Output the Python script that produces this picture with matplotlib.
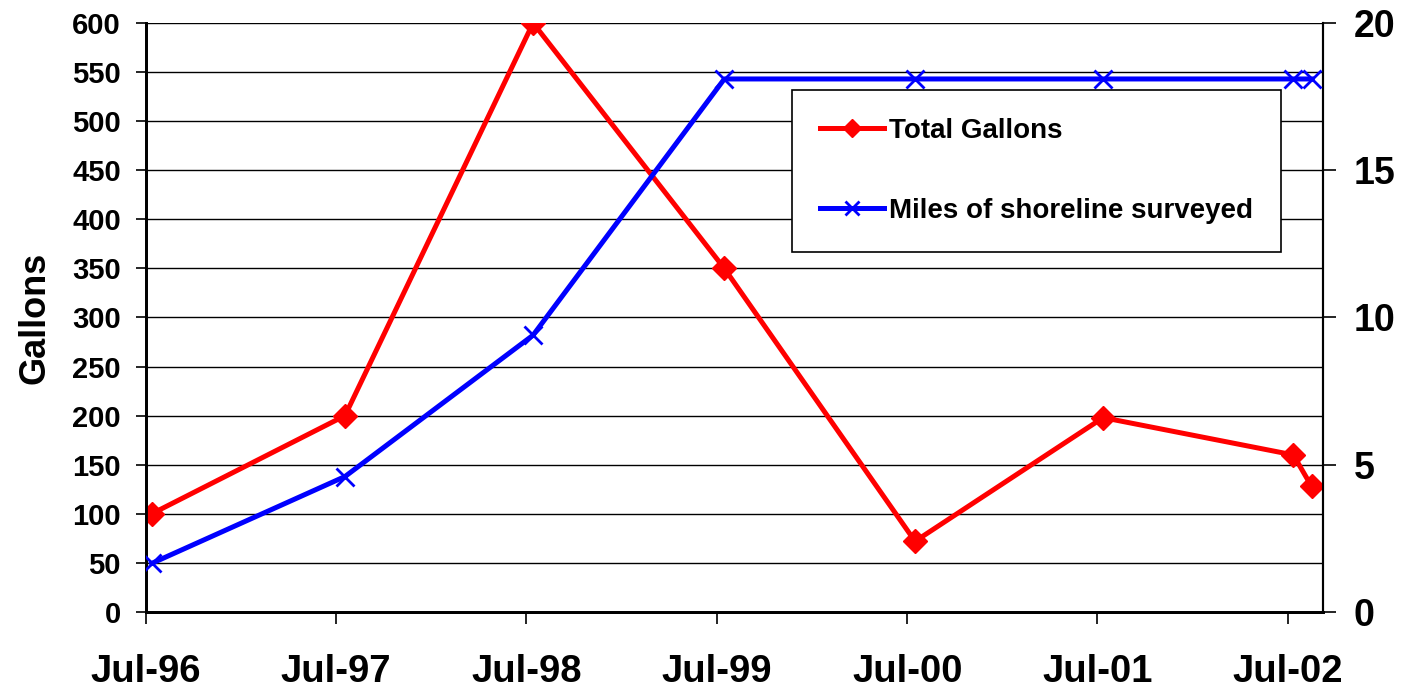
import matplotlib
matplotlib.use("Agg")
import matplotlib.pyplot as plt
import matplotlib.dates as mdates
import pandas as pd

# data
survey_dates = ["1996-07-12", "1997-07-18", "1998-07-14", "1999-07-16",
                "2000-07-16", "2001-07-12", "2002-07-12", "2002-08-16"]
total_gallons = [100, 200, 600, 350, 72, 198, 160, 128]
miles_surveyed = [1.65, 4.6, 9.4, 18.1, 18.1, 18.1, 18.1, 18.1]
tick_dates = ["1996-07-01", "1997-07-01", "1998-07-01", "1999-07-01",
              "2000-07-01", "2001-07-01", "2002-07-01"]

plt.rcParams['font.family'] = ['Liberation Sans', 'DejaVu Sans']
plt.rcParams['font.weight'] = 'bold'

dates = pd.to_datetime(survey_dates)
ticks = pd.to_datetime(tick_dates)

fig = plt.figure(figsize=(14.06, 6.93), dpi=100)
ax = fig.add_axes([0.1038, 0.1169, 0.8372, 0.8499])
ax2 = ax.twinx()

ax.plot(dates, total_gallons, color='#ff0000', lw=3.6, marker='D',
        ms=12, mec='#ff0000', mfc='#ff0000', label='Total Gallons', zorder=3)
ax2.plot(dates, miles_surveyed, color='#0000ff', lw=3.6, marker='x',
         ms=13, mew=2, label='Miles of shoreline surveyed', zorder=3)

ax.set_xlim(pd.Timestamp("1996-07-01"), pd.Timestamp("2002-09-07"))
ax.set_ylim(0, 600)
ax.set_yticks(range(0, 601, 50))
ax2.set_ylim(0, 20)
ax2.set_yticks([0, 5, 10, 15, 20])

ax.set_xticks(ticks)
ax.xaxis.set_major_formatter(mdates.DateFormatter('%b-%y'))

ax.grid(axis='y', color='black', lw=1)
ax.set_axisbelow(True)

for a in (ax, ax2):
    a.spines['top'].set_visible(False)
    a.spines['left'].set_linewidth(2)
    a.spines['bottom'].set_linewidth(2)
    a.spines['right'].set_linewidth(1.5)

ax.tick_params(axis='y', direction='out', length=7, width=1.2,
               labelsize=21, pad=11)
ax.tick_params(axis='x', direction='out', length=8.5, width=1.2,
               labelsize=27.5, pad=22)
ax2.tick_params(axis='y', direction='out', length=9, width=1.2,
                labelsize=27, pad=13)

ax.set_ylabel('Gallons', fontsize=26, fontweight='bold', labelpad=14)

h1, l1 = ax.get_legend_handles_labels()
h2, l2 = ax2.get_legend_handles_labels()
leg = ax2.legend(h1 + h2, l1 + l2, loc='upper left',
                 bbox_to_anchor=(0.549, 0.886), fontsize=20,
                 frameon=True, fancybox=False, edgecolor='black',
                 framealpha=1, markerscale=0.8, handlelength=2.3,
                 labelspacing=1.95, borderpad=1.0, handletextpad=0.2,
                 borderaxespad=0)
leg.get_frame().set_linewidth(1.2)

fig.savefig('out.png', dpi=100)
